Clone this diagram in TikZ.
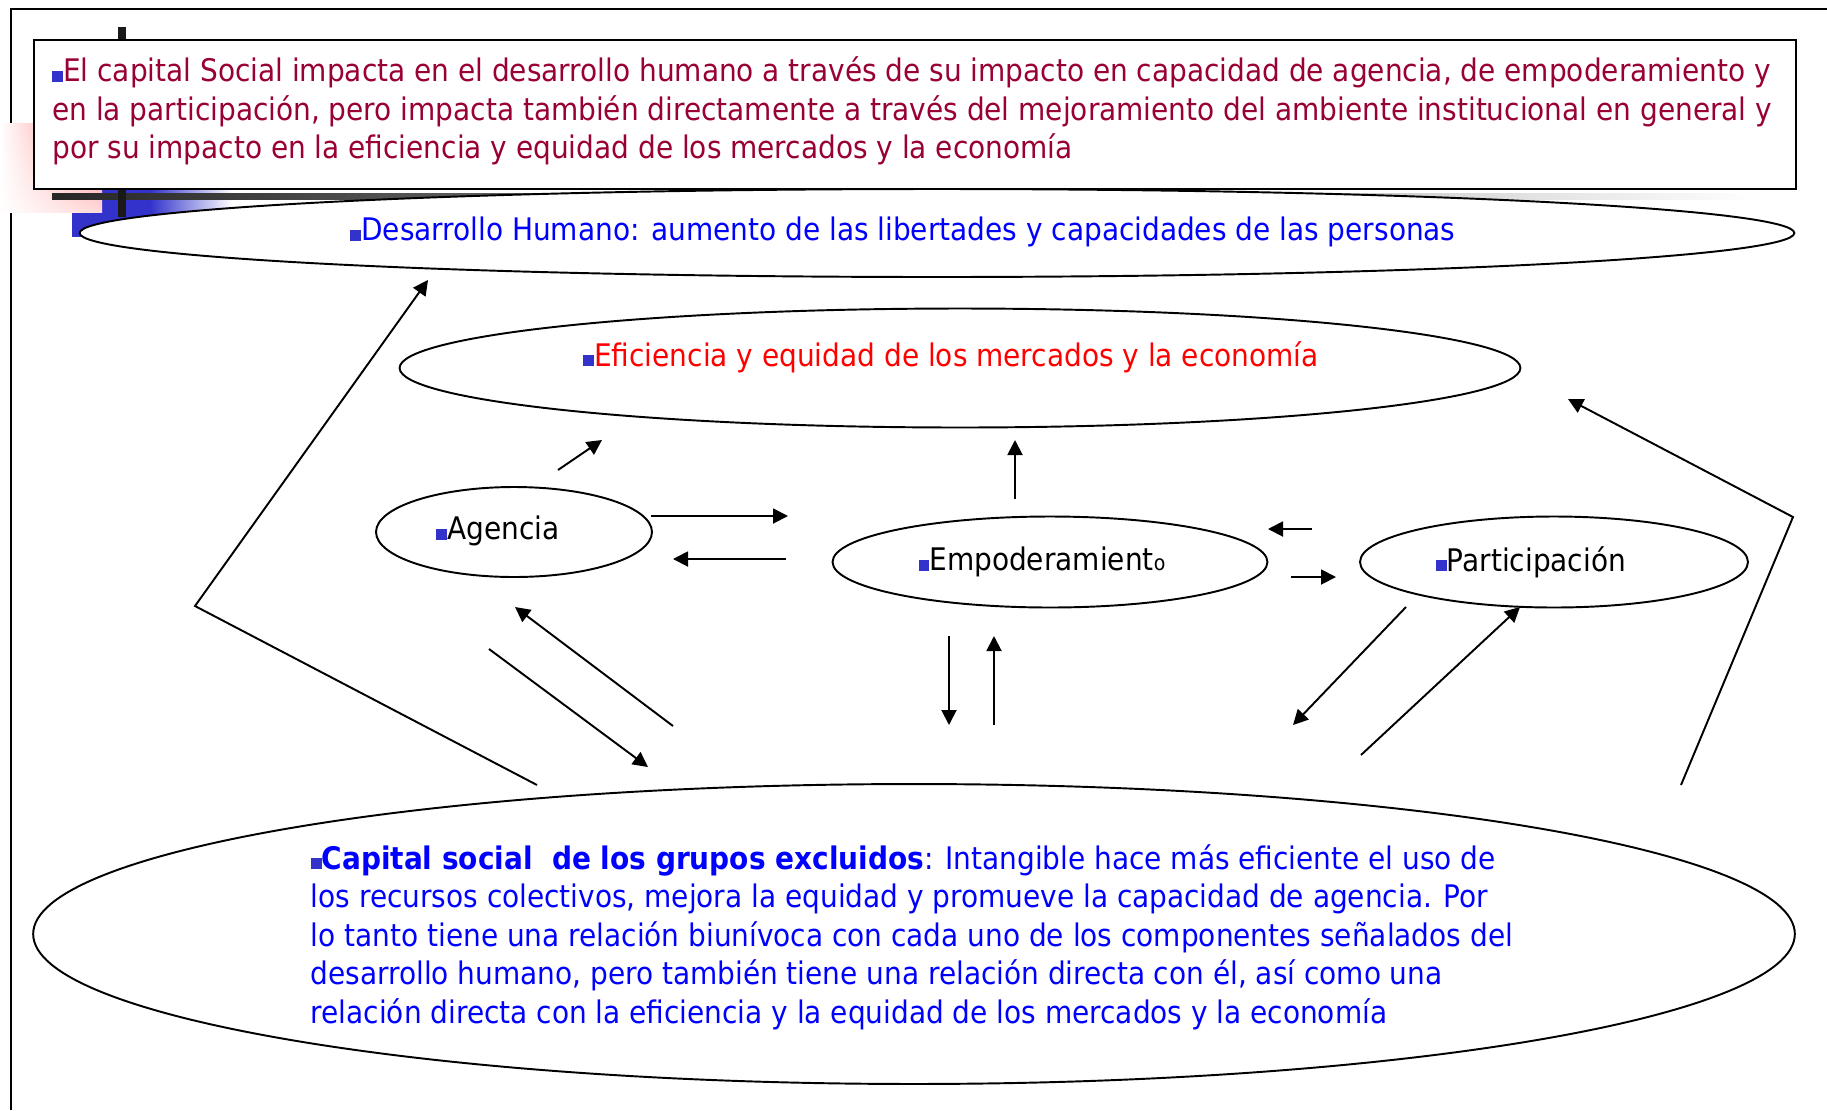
\documentclass[tikz,border=0pt]{standalone}
\usepackage{fontspec}
\setmainfont{DejaVu Sans Condensed}
\usetikzlibrary{shapes.geometric,arrows.meta,shadings}
\definecolor{bulletblue}{RGB}{51,51,204}
\definecolor{slidered}{RGB}{153,0,51}
\definecolor{pureblue}{RGB}{0,0,255}
\newcommand{\blt}{\textcolor{bulletblue}{\rule{6.2pt}{6.2pt}}}
\begin{document}
\begin{tikzpicture}[
            x=0.02cm, y=-0.02cm,
            every node/.style={font=\fontsize{17.7pt}{21.9pt}\selectfont},
            oval/.style={draw,ellipse,fill=white,line width=1.1pt,inner sep=0pt},
            link/.style={->,line width=1.1pt},
            >={Triangle[length=0.3cm,width=0.3cm]}
            ]
            \fill[white] (0,0) rectangle (1827,1110);
            \useasboundingbox (0,0) rectangle (1827,1110);
            % frame and slide decoration
            \draw[line width=1.1pt] (11,1110) -- (11,9) -- (1827,9);
            \fill[bulletblue] (72,189) rectangle (150,237);
            \shade[left color=bulletblue,right color=white] (150,189) rectangle (232,237);
            \shade[upper left=white,upper right=red!55!white,lower left=white,lower right=red!15!white] (0,123) rectangle (102,212);
            \shade[left color=black!85,right color=white] (52,193) rectangle (1760,199);
            \fill[black!90] (118,27) rectangle (126,217);
            % ovals
            \node[oval,minimum width=34.3cm,minimum height=1.76cm] (desarrollo) at (937,233) {};
            \node[text=pureblue] (desarrollo-txt) at (903,232)
                {\blt Desarrollo Humano: aumento de las libertades y capacidades de las personas};
            \node[draw,line width=1.1pt,fill=white,anchor=north west,minimum width=35.24cm,minimum height=2.98cm] (resumen) at (33,39) {};
            \node[anchor=west,inner sep=0pt,align=left,text=slidered] (resumen-txt) at (52,111)
                {\blt El capital Social impacta en el desarrollo humano a través de su impacto en capacidad de agencia, de empoderamiento y\\
                en la participación, pero impacta también directamente a través del mejoramiento del ambiente institucional en general y\\
                por su impacto en la eficiencia y equidad de los mercados y la economía};
            \node[oval,minimum width=22.42cm,minimum height=2.38cm] (eficiencia) at (960,368) {};
            \node[text=red] (eficiencia-txt) at (951,357) {\blt Eficiencia y equidad de los mercados y la economía};
            \node[oval,minimum width=5.52cm,minimum height=1.8cm] (agencia) at (514,532) {};
            \node (agencia-txt) at (498,531) {\blt Agencia};
            \node[oval,minimum width=8.7cm,minimum height=1.82cm] (empoder) at (1050,562) {};
            \node (empoder-txt) at (1042,562) {\blt Empoderamient{\fontsize{12pt}{14pt}\selectfont o}};
            \node[oval,minimum width=7.76cm,minimum height=1.82cm] (particip) at (1554,562) {};
            \node (particip-txt) at (1531,562) {\blt Participación};
            \node[oval,minimum width=35.24cm,minimum height=6cm] (capital) at (914,934) {};
            \node[align=left,text=pureblue] (capital-txt) at (912,937)
                {\blt\textbf{Capital social\ \ de los grupos excluidos}: Intangible hace más eficiente el uso de\\
                los recursos colectivos, mejora la equidad y promueve la capacidad de agencia. Por\\
                lo tanto tiene una relación biunívoca con cada uno de los componentes señalados del\\
                desarrollo humano, pero también tiene una relación directa con él, así como una\\
                relación directa con la eficiencia y la equidad de los mercados y la economía};
            % arrow ends
            \coordinate (ag-ef1) at (558,470);   \coordinate (ag-ef2) at (602,440);
            \coordinate (ag-em1) at (651,516);   \coordinate (ag-em2) at (788,516);
            \coordinate (em-ag1) at (786,559);   \coordinate (em-ag2) at (673,559);
            \coordinate (em-ef1) at (1015,499);  \coordinate (em-ef2) at (1015,440);
            \coordinate (pa-em1) at (1312,529);  \coordinate (pa-em2) at (1268,529);
            \coordinate (em-pa1) at (1291,577);  \coordinate (em-pa2) at (1336,577);
            \coordinate (em-ca1) at (949,636);   \coordinate (em-ca2) at (949,725);
            \coordinate (ca-em1) at (994,725);   \coordinate (ca-em2) at (994,636);
            \coordinate (ca-ag1) at (673,726);   \coordinate (ca-ag2) at (515,607);
            \coordinate (ag-ca1) at (489,649);   \coordinate (ag-ca2) at (648,767);
            \coordinate (ca-pa1) at (1361,755);  \coordinate (ca-pa2) at (1520,607);
            \coordinate (pa-ca1) at (1406,607);  \coordinate (pa-ca2) at (1293,725);
            \coordinate (ca-de1) at (537,785);   \coordinate (ca-de2) at (195,606);  \coordinate (ca-de3) at (428,280);
            \coordinate (ca-ef1) at (1681,785);  \coordinate (ca-ef2) at (1793,517); \coordinate (ca-ef3) at (1568,399);
            % arrows
            \draw[link] (ag-ef1) -- (ag-ef2);
            \draw[link] (ag-em1) -- (ag-em2);
            \draw[link] (em-ag1) -- (em-ag2);
            \draw[link] (em-ef1) -- (em-ef2);
            \draw[link] (pa-em1) -- (pa-em2);
            \draw[link] (em-pa1) -- (em-pa2);
            \draw[link] (em-ca1) -- (em-ca2);
            \draw[link] (ca-em1) -- (ca-em2);
            \draw[link] (ca-ag1) -- (ca-ag2);
            \draw[link] (ag-ca1) -- (ag-ca2);
            \draw[link] (ca-pa1) -- (ca-pa2);
            \draw[link] (pa-ca1) -- (pa-ca2);
            \draw[link] (ca-de1) -- (ca-de2) -- (ca-de3);
            \draw[link] (ca-ef1) -- (ca-ef2) -- (ca-ef3);
        \end{tikzpicture}
\end{document}
